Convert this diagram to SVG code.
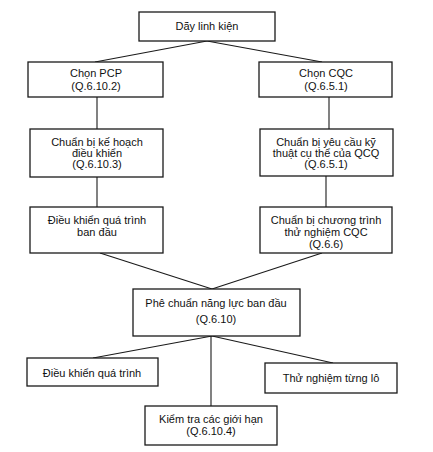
<svg xmlns="http://www.w3.org/2000/svg" width="433" height="452" viewBox="0 0 433 452">
<style>
rect{fill:#fff;stroke:#1a1a1a;stroke-width:1.3}
text{font-family:"Liberation Sans",Arial,sans-serif;font-size:11px;fill:#111;text-anchor:middle}
#connectors line{stroke:#1a1a1a;stroke-width:1.1}
</style>
<rect x="0" y="0" width="433" height="452" style="fill:#fff;stroke:none"/>
<g id="connectors">
<line x1="207" y1="41" x2="95" y2="62"/>
<line x1="207" y1="41" x2="322" y2="62"/>
<line x1="97" y1="97" x2="97" y2="129"/>
<line x1="329" y1="97" x2="329" y2="129"/>
<line x1="97" y1="177" x2="97" y2="207"/>
<line x1="326" y1="176" x2="326" y2="207"/>
<line x1="100" y1="253" x2="212" y2="289"/>
<line x1="322" y1="253" x2="212" y2="289"/>
<line x1="212" y1="336" x2="93" y2="358"/>
<line x1="212" y1="336" x2="333" y2="363"/>
<line x1="211" y1="336" x2="211" y2="406"/>
</g>
<g id="n1"><rect x="139" y="12" width="136" height="29"/><text x="207" y="30">Dãy linh kiện</text></g>
<g id="n2"><rect x="28" y="62" width="135" height="35"/><text x="96" y="77">Chọn PCP</text><text x="96" y="90">(Q.6.10.2)</text></g>
<g id="n3"><rect x="259" y="62" width="133" height="35"/><text x="326" y="77">Chọn CQC</text><text x="326" y="90">(Q.6.5.1)</text></g>
<g id="n4"><rect x="30" y="129" width="133" height="48"/><text x="97" y="146">Chuẩn bị kế hoạch</text><text x="97" y="157">điều khiển</text><text x="97" y="168">(Q.6.10.3)</text></g>
<g id="n5"><rect x="260" y="129" width="133" height="47"/><text x="326" y="146">Chuẩn bị yêu cầu kỹ</text><text x="326" y="157">thuật cụ thể của QCQ</text><text x="326" y="168">(Q.6.5.1)</text></g>
<g id="n6"><rect x="30" y="207" width="133" height="46"/><text x="97" y="224">Điều khiển quá trình</text><text x="97" y="236">ban đầu</text></g>
<g id="n7"><rect x="260" y="207" width="132" height="46"/><text x="326" y="224">Chuẩn bị chương trình</text><text x="326" y="236">thử nghiệm CQC</text><text x="326" y="248">(Q.6.6)</text></g>
<g id="n8"><rect x="133" y="289" width="167" height="47"/><text x="216" y="307">Phê chuẩn năng lực ban đầu</text><text x="216" y="323">(Q.6.10)</text></g>
<g id="n9"><rect x="27" y="358" width="131" height="28"/><text x="92" y="377">Điều khiển quá trình</text></g>
<g id="n10"><rect x="265" y="363" width="132" height="30"/><text x="331" y="382">Thử nghiệm từng lô</text></g>
<g id="n11"><rect x="145" y="406" width="132" height="39"/><text x="211" y="423">Kiểm tra các giới hạn</text><text x="211" y="435">(Q.6.10.4)</text></g>
</svg>
